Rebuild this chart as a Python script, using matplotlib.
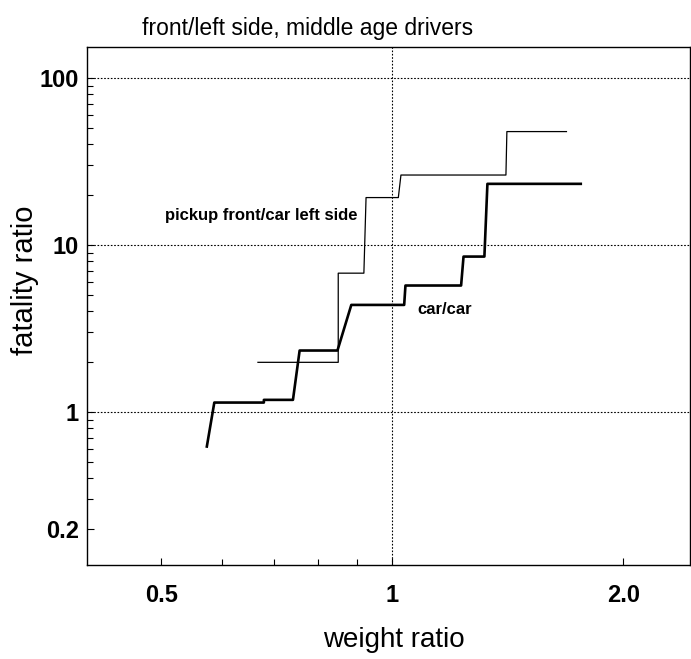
import numpy as np
import matplotlib
matplotlib.use('Agg')
import matplotlib.pyplot as plt
from matplotlib.ticker import FixedLocator, NullFormatter, LogLocator

plt.rcParams['font.family'] = ['Liberation Sans', 'DejaVu Sans']

# car/car step curve (weight ratio, fatality ratio)
car_x = [0.573, 0.586, 0.68, 0.68, 0.742, 0.757, 0.848, 0.884, 1.036, 1.04, 1.229, 1.238, 1.318, 1.33, 1.76]
car_y = [0.62, 1.137, 1.137, 1.18, 1.18, 2.33, 2.33, 4.37, 4.37, 5.71, 5.71, 8.51, 8.51, 23.2, 23.2]

# pickup front / car left side step curve
pick_x = [0.668, 0.85, 0.85, 0.918, 0.924, 1.018, 1.026, 1.406, 1.41, 1.686]
pick_y = [1.98, 1.98, 6.77, 6.77, 19.2, 19.2, 26.2, 26.2, 47.7, 47.7]

x_ticks = [0.5, 1, 2.0]
x_labels = ['0.5', '1', '2.0']
x_minor = [0.6, 0.7, 0.8, 0.9]
y_ticks = [0.2, 1, 10, 100]
y_labels = ['0.2', '1', '10', '100']

fig = plt.figure(figsize=(6.91, 6.59), dpi=100)
ax = fig.add_axes([0.126, 0.1426, 0.872, 0.786])
ax.set_xscale('log')
ax.set_yscale('log')
ax.set_xlim(0.40, 2.44)
ax.set_ylim(0.121, 153)

for yv in [1, 10, 100]:
    ax.axhline(yv, color='black', lw=0.8, ls=(0, (1.5, 1.5)), zorder=1)
ax.axvline(1, color='black', lw=0.8, ls=(0, (1.5, 1.5)), zorder=1)

ax.plot(pick_x, pick_y, color='black', lw=0.9, zorder=3)
ax.plot(car_x, car_y, color='black', lw=1.9, zorder=3)

ax.text(0.505, 14.9, 'pickup front/car left side', fontsize=12, fontweight='bold', va='center', ha='left')
ax.text(1.078, 4.08, 'car/car', fontsize=12, fontweight='bold', va='center', ha='left')

ax.xaxis.set_major_locator(FixedLocator(x_ticks))
ax.xaxis.set_minor_locator(FixedLocator(x_minor))
ax.set_xticklabels(x_labels)
ax.xaxis.set_minor_formatter(NullFormatter())
ax.yaxis.set_major_locator(FixedLocator(y_ticks))
ax.set_yticklabels(y_labels)
ax.yaxis.set_minor_locator(LogLocator(base=10, subs=np.arange(2, 10)))
ax.yaxis.set_minor_formatter(NullFormatter())

ax.tick_params(axis='both', which='both', direction='in', width=0.8)
ax.tick_params(axis='x', which='major', length=5, pad=14, labelsize=17)
ax.tick_params(axis='x', which='minor', length=4)
ax.tick_params(axis='y', which='major', length=5, pad=6, labelsize=17)
ax.tick_params(axis='y', which='minor', length=4)
for lab in ax.get_xticklabels() + ax.get_yticklabels():
    lab.set_fontweight('bold')

for sp in ax.spines.values():
    sp.set_linewidth(1.0)

ax.set_xlabel('weight ratio', fontsize=20)
ax.xaxis.set_label_coords((394 - 87) / 602, -(640 - 565) / 518)
ax.set_ylabel('fatality ratio', fontsize=21)
ax.yaxis.set_label_coords((25 - 87) / 602, (565 - 280) / 518)
ax.xaxis.label.set_va('center')
ax.yaxis.label.set_va('center')

fig.text(308 / 691, 1 - 28 / 659, 'front/left side, middle age drivers', fontsize=16.5,
         ha='center', va='center')

fig.savefig('out.png', dpi=100)
